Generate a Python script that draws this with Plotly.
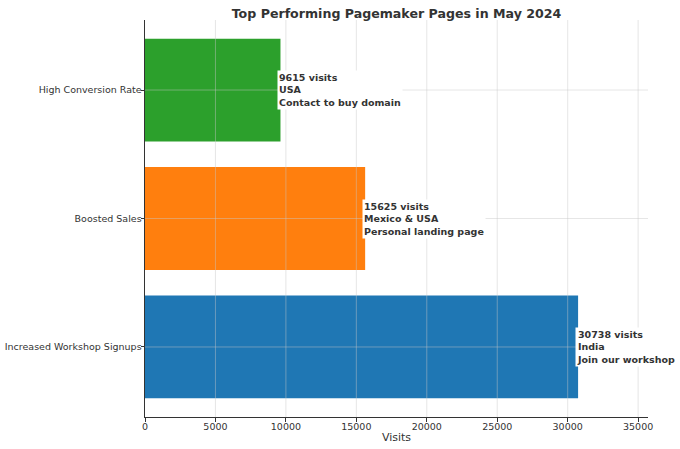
import plotly.graph_objects as go

# Data
pages = ["Increased Workshop Signups", "Boosted Sales", "High Conversion Rate"]
visits = [30738, 15625, 9615]
countries = ["India", "Mexico & USA", "USA"]
page_titles = ["Join our workshop", "Personal landing page", "Contact to buy domain"]
bar_colors = ["#1f77b4", "#ff7f0e", "#2ca02c"]
x_ticks = [0, 5000, 10000, 15000, 20000, 25000, 30000, 35000]

font_family = "DejaVu Sans"
text_color = "#333333"

fig = go.Figure()

fig.add_trace(go.Bar(
    x=visits,
    y=pages,
    orientation="h",
    width=0.8,
    marker=dict(color=bar_colors, line=dict(width=0)),
    hoverinfo="skip",
))

# Labels at the end of each bar, on a white box
for page, v, c, t in zip(pages, visits, countries, page_titles):
    fig.add_annotation(
        x=v, y=page,
        text=f"<b>{v} visits<br>{c}<br>{t}</b>",
        showarrow=False,
        xanchor="left", yanchor="middle", align="left",
        xshift=-3,
        bgcolor="white", borderpad=1,
        font=dict(family=font_family, size=9.5, color=text_color),
    )

# Gridlines drawn over the bars, as in the reference
for t in x_ticks[1:]:
    fig.add_shape(type="line", xref="x", yref="paper", x0=t, x1=t, y0=0, y1=1,
                  line=dict(color="rgba(200,200,200,0.45)", width=1), layer="above")
for p in pages:
    fig.add_shape(type="line", xref="paper", yref="y", x0=0, x1=1, y0=p, y1=p,
                  line=dict(color="rgba(200,200,200,0.45)", width=1), layer="above")

fig.update_layout(
    width=680, height=449,
    margin=dict(l=145, r=32, t=20, b=32),
    paper_bgcolor="white",
    plot_bgcolor="white",
    showlegend=False,
    font=dict(family=font_family, color=text_color, size=9.5),
    title=dict(
        text="<b>Top Performing Pagemaker Pages in May 2024</b>",
        x=0.5, xref="paper", xanchor="center",
        y=1, yref="paper", yanchor="bottom",
        pad=dict(b=2),
        font=dict(family=font_family, size=12.6, color=text_color),
    ),
    xaxis=dict(
        range=[0, 35700],
        tickvals=x_ticks,
        tickformat="d",
        ticks="outside", ticklen=3.5, tickcolor=text_color,
        ticklabelstandoff=-3,
        showline=True, linecolor=text_color, linewidth=1,
        showgrid=False, zeroline=False,
        automargin=False,
        tickfont=dict(size=9.5),
        title=dict(text="Visits", font=dict(size=11), standoff=2),
    ),
    yaxis=dict(
        range=[-0.545, 2.545],
        ticks="outside", ticklen=3.5, tickcolor=text_color,
        ticklabelstandoff=-3,
        showline=True, linecolor=text_color, linewidth=1,
        showgrid=False, zeroline=False,
        automargin=False,
        tickfont=dict(size=9.5),
    ),
)

# drop the browser's default body margin so the figure sits at the window corner
fig.write_html("out.html", config={"displayModeBar": False},
               post_script="document.body.style.margin = '0';")
